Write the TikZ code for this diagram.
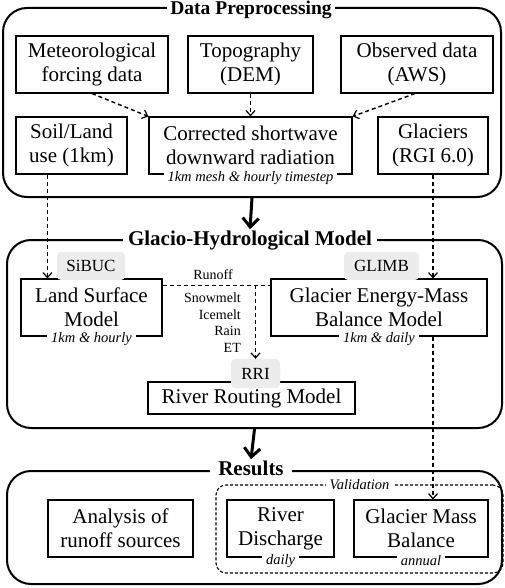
\documentclass[tikz,border=0pt]{standalone}
\usepackage{fontspec}
\setmainfont{Liberation Serif}
\usetikzlibrary{arrows.meta,calc}
\tikzset{
  group/.style={draw, line width=2pt, rounded corners=24pt, inner sep=0pt},
  box/.style={draw, line width=1.1pt, align=center, inner sep=0pt, minimum height=57pt,
    font=\fontsize{21}{24}\selectfont},
  tag/.style={fill=gray!15, rounded corners=4pt, inner sep=0pt, font=\fontsize{17}{19}\selectfont},
  grptitle/.style={fill=white, anchor=base, inner xsep=5pt, inner ysep=1pt, font=\fontsize{21}{24}\selectfont\bfseries},
  sublabel/.style={fill=white, inner xsep=4pt, inner ysep=0pt, font=\fontsize{14.5}{16}\selectfont\itshape},
  flowlabel/.style={inner sep=0pt, font=\fontsize{14}{16}\selectfont},
  dasharrow/.style={line width=1.4pt, dash pattern=on 4pt off 3pt, -{Straight Barb[length=5pt,width=9pt,line width=1.2pt]}},
  dashline/.style={line width=1.4pt, dash pattern=on 4pt off 3pt},
  bigarrow/.style={line width=3pt, -{Straight Barb[length=9pt,width=16pt,line width=3pt]}},
  valbox/.style={draw, line width=1.1pt, dash pattern=on 3pt off 2pt, rounded corners=10pt, inner sep=0pt}
}
\begin{document}
\begin{tikzpicture}[x=1pt,y=-1pt]
\useasboundingbox (0,0) rectangle (505,588);

% ---------- Data Preprocessing ----------
\node[group, minimum width=498pt, minimum height=189pt] (dp) at (252,102.5) {};
\node[grptitle, inner xsep=3pt, font=\fontsize{19.5}{22}\selectfont\bfseries] (dptitle) at (251,15) {Data Preprocessing};

\node[box, minimum width=152pt] (met) at (92,64.5) {Meteorological\\forcing data};
\node[box, minimum width=125pt] (topo) at (250.5,64.5) {Topography\\(DEM)};
\node[box, minimum width=152pt] (aws) at (417,64.5) {Observed data\\(AWS)};
\node[box, minimum width=111pt] (soil) at (71.5,145.5) {Soil/Land\\use (1km)};
\node[box, minimum width=203pt] (corr) at (250.5,145.5) {Corrected shortwave\\downward radiation};
\node[box, minimum width=110pt] (glac) at (433,145.5) {Glaciers\\(RGI 6.0)};
\node[sublabel] (corrlbl) at ($(corr.south)+(0,3)$) {1km mesh \& hourly timestep};

\draw[dasharrow] (met.south) -- (corr.north west);
\draw[dasharrow] (topo.south) -- (topo.south |- corr.north);
\draw[dasharrow] ($(aws.south)+(-2,0)$) -- (corr.north east);

% ---------- Glacio-Hydrological Model ----------
\node[group, minimum width=495pt, minimum height=188pt] (ghm) at (254.5,334) {};
\node[grptitle] (ghmtitle) at (250,245) {Glacio-Hydrological Model};

\node[box, minimum width=141pt] (lsm) at (91.5,307.5) {Land Surface\\Model};
\node[box, minimum width=216pt] (gemb) at (379,307.5) {Glacier Energy-Mass\\Balance Model};
\node[box, minimum width=207pt, minimum height=32pt] (rrm) at (251.5,398) {River Routing Model};
\node[sublabel] (lsmlbl) at ($(lsm.south)+(0,2)$) {1km \& hourly};
\node[sublabel] (gemblbl) at ($(gemb.south)+(0,2)$) {1km \& daily};

\node[tag, minimum width=68pt, minimum height=28pt] (sibuc) at (91,266) {SiBUC};
\node[tag, minimum width=75pt, minimum height=28pt] (glimb) at (381.5,266) {GLIMB};
\node[tag, minimum width=49pt, minimum height=29pt] (rri) at (255.5,373.5) {RRI};

\coordinate (runL) at ($(lsm.north east)+(0,7)$);
\coordinate (runR) at ($(gemb.north west)+(0,7)$);
\coordinate (runJ) at (rri.north |- runL);
\draw[dashline] (runL) -- (runR);
\draw[dasharrow] (runJ) -- (rri.north);

\node[flowlabel] (runoff) at (213,275) {Runoff};
\node[flowlabel, anchor=east] (snow) at (241,298) {Snowmelt};
\node[flowlabel, anchor=east] (ice) at (241,314.5) {Icemelt};
\node[flowlabel, anchor=east] (rain) at (241,331) {Rain};
\node[flowlabel, anchor=east] (et) at (241,347.5) {ET};

\coordinate (soilout) at ($(soil.south west)+(32,0)$);
\draw[dasharrow] (soilout) -- (soilout |- lsm.north);
\draw[dasharrow] (glac.south) -- (glac.south |- gemb.north);

\draw[bigarrow] (dp.south) -- (ghmtitle.north);

% ---------- Results ----------
\node[group, minimum width=495pt, minimum height=113pt] (res) at (254.5,527.5) {};
\node[grptitle, inner xsep=8pt] (restitle) at (251,475) {Results};
\node[valbox, minimum width=287pt, minimum height=88pt] (val) at (359.5,529) {};
\node[sublabel] (vallbl) at (val.north) {Validation};

\node[box, minimum width=145pt] (ana) at (120.5,528.5) {Analysis of\\runoff sources};
\node[box, minimum width=107pt] (rd) at (280.5,528.5) {River\\Discharge};
\node[box, minimum width=134pt] (gmb) at (421,528.5) {Glacier Mass\\Balance};
\node[sublabel] (rdlbl) at ($(rd.south)+(0,3)$) {daily};
\node[sublabel] (gmblbl) at ($(gmb.south)+(0,3)$) {annual};

\draw[dasharrow] (glac.south |- gemb.south) -- (glac.south |- gmb.north);
\draw[bigarrow] (ghm.south) -- (restitle.north);
\end{tikzpicture}
\end{document}
